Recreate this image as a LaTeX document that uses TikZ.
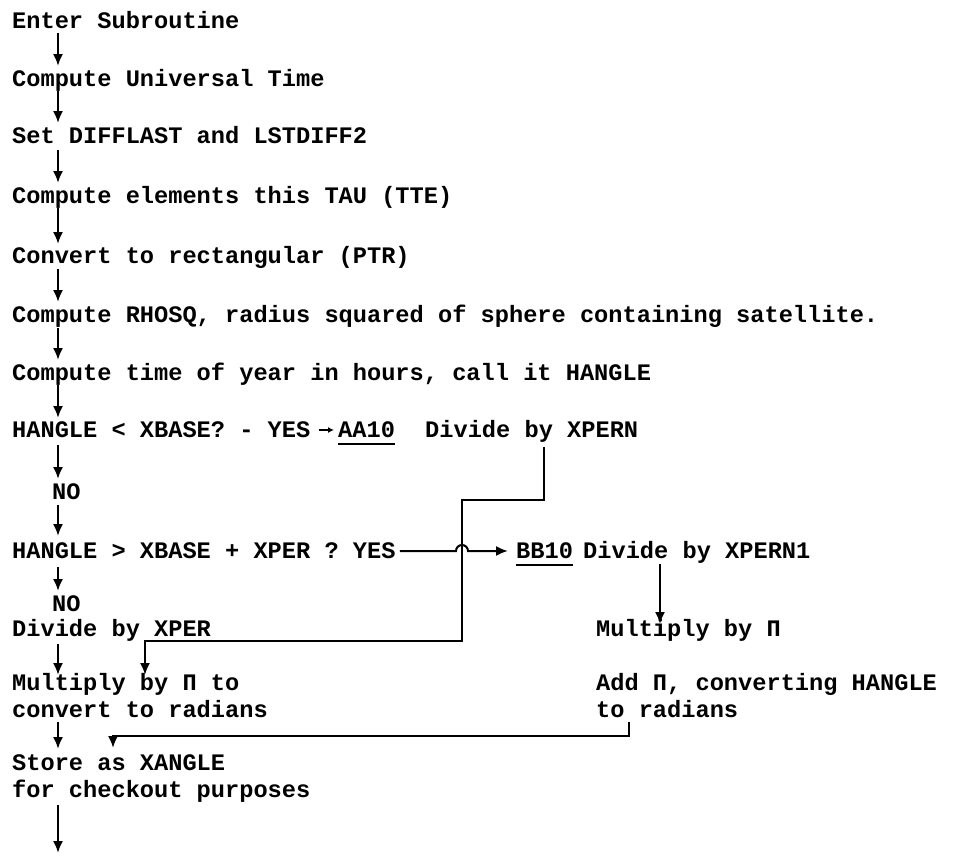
\documentclass[tikz,border=0pt]{standalone}
\usepackage{fontspec}
\newfontfamily\tw{Liberation Mono}
\usetikzlibrary{arrows.meta,calc}
\tikzset{
  txt/.style={inner sep=0pt, anchor=base west, font=\tw\bfseries\fontsize{23.66pt}{27pt}\selectfont},
  flow/.style={line width=2pt, -{Latex[length=12pt,width=10pt]}},
  tiny/.style={line width=1.4pt, -{Latex[length=6pt,width=6pt]}},
  uline/.style={line width=1.6pt},
}
\begin{document}
\begin{tikzpicture}[x=1pt,y=-1pt]
\useasboundingbox (0,0) rectangle (958,857);
\coordinate (ax) at (58,0);
% left column
\node[txt] (enter) at (12,28) {Enter Subroutine};
\node[txt] (univ)  at (12,86) {Compute Universal Time};
\node[txt] (set)   at (12,143) {Set DIFFLAST and LSTDIFF2};
\node[txt] (elem)  at (12,203) {Compute elements this TAU (TTE)};
\node[txt] (conv)  at (12,263) {Convert to rectangular (PTR)};
\node[txt] (rho)   at (12,322) {Compute RHOSQ, radius squared of sphere containing satellite.};
\node[txt] (year)  at (12,380) {Compute time of year in hours, call it HANGLE};
\node[txt] (q1)    at (12,437) {HANGLE < XBASE? - YES};
\node[txt] (aa)    at (338,437) {AA10};
\node[txt] (dxn)   at (425,437) {Divide by XPERN};
\node[txt] (no1)   at (52,499) {NO};
\node[txt] (q2)    at (12,558) {HANGLE > XBASE + XPER ? YES};
\node[txt] (bb)    at (516,558) {BB10};
\node[txt] (dxn1)  at (583,558) {Divide by XPERN1};
\node[txt, text depth=0pt] (no2) at (52,611) {NO};
\node[txt, text height=16pt] (dx) at (12,636) {Divide by XPER};
\node[txt] (mpi)   at (596,636) {Multiply by Π};
\node[txt] (m1a)   at (12,690) {Multiply by Π to};
\node[txt] (m1b)   at (12,717) {convert to radians};
\node[txt] (add1)  at (596,690) {Add Π, converting HANGLE};
\node[txt] (add2)  at (596,717) {to radians};
\node[txt] (st1)   at (12,770) {Store as XANGLE};
\node[txt] (st2)   at (12,797) {for checkout purposes};
\coordinate (fin) at (58,853);
% underlines
\draw[uline] ($(aa.base west)+(0,7)$) -- ($(aa.base east)+(0,7)$);
\draw[uline] ($(bb.base west)+(0,7)$) -- ($(bb.base east)+(0,7)$);
% main vertical flow
\draw[flow] ($(enter.base -| ax)+(0,5)$) -- ($(univ.base -| ax)+(0,-20)$);
\draw[flow] ($(univ.base -| ax)+(0,5)$) -- ($(set.base -| ax)+(0,-20)$);
\draw[flow] ($(set.base -| ax)+(0,7)$) -- ($(elem.base -| ax)+(0,-20)$);
\draw[flow] ($(elem.base -| ax)+(0,5)$) -- ($(conv.base -| ax)+(0,-19)$);
\draw[flow] ($(conv.base -| ax)+(0,6)$) -- ($(rho.base -| ax)+(0,-20)$);
\draw[flow] ($(rho.base -| ax)+(0,6)$) -- ($(year.base -| ax)+(0,-20)$);
\draw[flow] ($(year.base -| ax)+(0,5)$) -- ($(q1.base -| ax)+(0,-19)$);
\draw[flow] ($(q1.base -| ax)+(0,8)$) -- ($(no1.base -| ax)+(0,-20)$);
\draw[flow] ($(no1.base -| ax)+(0,6)$) -- ($(q2.base -| ax)+(0,-22)$);
\draw[flow] ($(q2.base -| ax)+(0,9)$) -- ($(no2.base -| ax)+(0,-20)$);
\draw[flow] ($(dx.base -| ax)+(0,8)$) -- ($(m1a.base -| ax)+(0,-15)$);
\draw[flow] ($(m1b.base -| ax)+(0,5)$) -- ($(st1.base -| ax)+(0,-21)$);
\draw[flow] ($(st2.base -| ax)+(0,8)$) -- (fin);
% YES -> AA10
\draw[tiny] ($(q1.base east)+(8,-7)$) -- ($(aa.base west)+(-4,-7)$);
% YES -> BB10 with jump over the vertical wire
\draw[flow] ($(q2.base east)+(4,-7)$) -- (456,551) arc[start angle=180,end angle=0,radius=6pt] -- ($(bb.base west)+(-8,-7)$);
% XPERN -> Multiply by Pi to (left)
\draw[flow] ($(dxn.base west)+(119,10)$) -- ++(0,53) -| (462,641) -| ($(m1a.base west)+(133,-15)$);
% XPERN1 -> Multiply by Pi (right)
\draw[flow] ($(dxn1.base west)+(77,6)$) -- ($(mpi.base west)+(64,-12)$);
% to radians -> Store as XANGLE
\draw[flow] ($(add2.base west)+(33,5)$) -- ++(0,14) -| ($(st1.base west)+(101,-22)$);
\end{tikzpicture}
\end{document}
